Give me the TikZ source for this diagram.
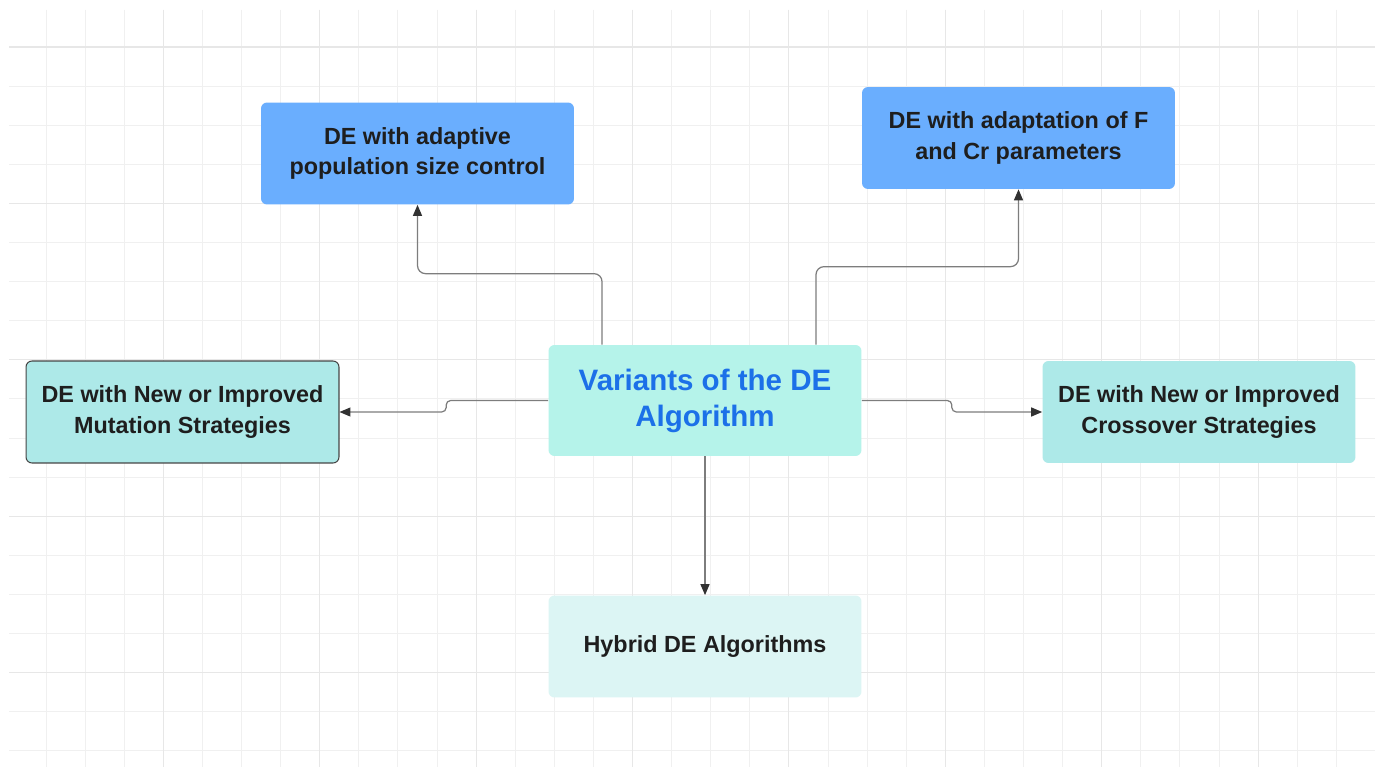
\documentclass[tikz,border=0pt]{standalone}
\usepackage{fontspec}
\setmainfont{Liberation Sans}
\usetikzlibrary{arrows.meta, positioning}
\definecolor{boxblue}{RGB}{106,174,254}
\definecolor{boxteal}{RGB}{173,233,232}
\definecolor{boxaqua}{RGB}{181,243,234}
\definecolor{boxpale}{RGB}{220,245,244}
\definecolor{titleblue}{RGB}{28,112,232}
\definecolor{txtdark}{RGB}{30,30,30}
\definecolor{linkgray}{RGB}{125,125,125}
\definecolor{tipdark}{RGB}{50,50,50}
\definecolor{edgedark}{RGB}{70,70,70}
\definecolor{gridlight}{RGB}{240,240,240}
\definecolor{griddark}{RGB}{231,231,231}
\tikzset{
  box/.style={rectangle, minimum width=6.26cm, minimum height=2.04cm,
    inner sep=0pt, align=center, rounded corners=3.4pt, text=txtdark,
    font=\fontsize{13.3}{17.5}\selectfont\bfseries},
  bluebox/.style={box, fill=boxblue},
  tealbox/.style={box, fill=boxteal},
  palebox/.style={box, fill=boxpale},
  rootbox/.style={box, fill=boxaqua, minimum height=2.22cm, text=titleblue,
    font=\fontsize{16.8}{20.5}\selectfont\bfseries},
  link/.style={-{Triangle[length=2.2mm, width=1.8mm, color=tipdark]},
    line width=0.7pt, color=linkgray, rounded corners=0.16cm},
  jog/.style={link, rounded corners=0.09cm},
  gridline/.style={line width=0.5pt, color=gridlight},
  gridbold/.style={line width=0.6pt, color=griddark}
}

\begin{document}
\begin{tikzpicture}[x=0.02cm, y=-0.02cm]
  % Page and grid
  \fill[white] (0,0) rectangle (1375,767);
  \useasboundingbox (0,0) rectangle (1375,767);
  \foreach \k in {0,...,33}
    \draw[gridline] ({46+39.1*\k},10) -- ({46+39.1*\k},767);
  \foreach \k in {0,...,18}
    \draw[gridline] (9,{47+39.1*\k}) -- (1375,{47+39.1*\k});
  \foreach \k in {3,7,...,31}
    \draw[gridbold] ({46+39.1*\k},10) -- ({46+39.1*\k},767);
  \foreach \k in {0,4,...,16}
    \draw[gridbold] (9,{47+39.1*\k}) -- (1375,{47+39.1*\k});

  % Boxes
  \node[rootbox] (var) at (705,400.5) {Variants of the DE\\Algorithm};
  \node[bluebox] (pop) at (417.5,153.5) {DE with adaptive\\population size control};
  \node[bluebox] (par) at (1018.5,138) {DE with adaptation of F\\and Cr parameters};
  \node[tealbox, draw=edgedark, line width=0.6pt] (mut) at (182.5,412) {DE with New or Improved\\Mutation Strategies};
  \node[tealbox] (cro) at (1199,412) {DE with New or Improved\\Crossover Strategies};
  \node[palebox] (hyb) at (705,646.5) {Hybrid DE Algorithms};

  % Connectors
  \draw[link] ([xshift=-2.06cm]var.north) -- ++(0,-71) -| (pop.south);
  \draw[link] ([xshift=2.22cm]var.north) -- ++(0,-78) -| (par.south);
  \draw[jog] (var.west) -- ++(-102,0) |- (mut.east);
  \draw[jog] (var.east) -- ++(90,0) |- (cro.west);
  \draw[link] (var.south) -- (hyb.north);

\end{tikzpicture}
\end{document}
